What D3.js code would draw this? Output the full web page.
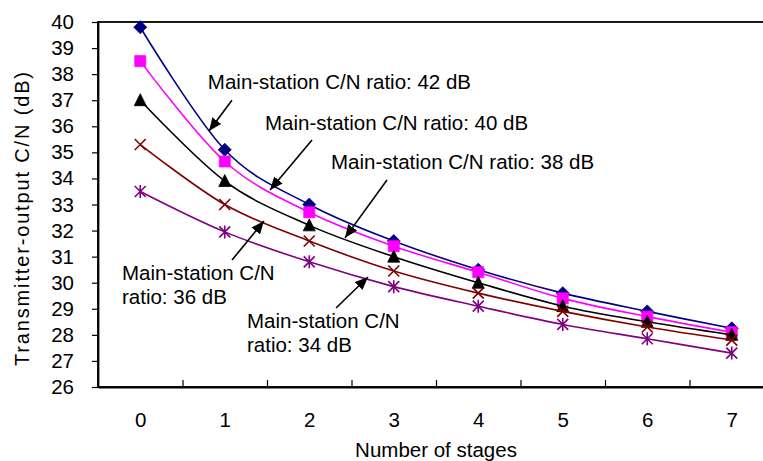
<!DOCTYPE html>
<html>
<head>
<meta charset="utf-8">
<script src="https://cdn.jsdelivr.net/npm/d3@7"></script>
<style>
  body { margin: 0; background: #fff; }
  svg { display: block; font-family: "Liberation Sans", Arial, sans-serif; }
</style>
</head>
<body>
<div id="chart"></div>
<script>
// Data
const stages = [0, 1, 2, 3, 4, 5, 6, 7];
const cn42 = [39.8, 35.1, 33.0, 31.6, 30.5, 29.6, 28.9, 28.25];
const cn40 = [38.5, 34.65, 32.7, 31.4, 30.4, 29.4, 28.7, 28.1];
const cn38 = [37.0, 33.9, 32.2, 31.0, 30.0, 29.1, 28.5, 28.0];
const cn36 = [35.3, 33.0, 31.6, 30.45, 29.6, 28.9, 28.3, 27.8];
const cn34 = [33.5, 31.95, 30.8, 29.85, 29.1, 28.4, 27.85, 27.3];
const yTicks = [26, 27, 28, 29, 30, 31, 32, 33, 34, 35, 36, 37, 38, 39, 40];

const seriesNames = ["42 dB", "40 dB", "38 dB", "36 dB", "34 dB"];
const seriesValues = [cn42, cn40, cn38, cn36, cn34];
const seriesColors = ["#000080", "#ff00ff", "#000000", "#800000", "#800080"];
const seriesMarkers = ["diamond", "square", "triangle", "cross", "star"];

// annotations: label lines, text anchor and arrow (start -> tip) in data units (stage, dB)
const annotations = [
  { lines: ["Main-station C/N ratio: 42 dB"], text: [0.80, 37.43], from: [1.085, 37.0], to: [0.814, 35.82] },
  { lines: ["Main-station C/N ratio: 40 dB"], text: [1.476, 35.86], from: [2.033, 35.47], to: [1.536, 33.56] },
  { lines: ["Main-station C/N ratio: 38 dB"], text: [2.257, 34.36], from: [2.92, 33.94], to: [2.423, 31.72] },
  { lines: ["Main-station C/N", "ratio: 36 dB"], text: [-0.216, 30.1], from: [1.086, 30.87], to: [1.464, 32.37] },
  { lines: ["Main-station C/N", "ratio: 34 dB"], text: [1.263, 28.26], from: [2.317, 29.03], to: [2.695, 30.22] }
];

const config = {
  containerWidth: 763,
  containerHeight: 461,
  margin: { top: 22, left: 98 },
  plotWidth: 676,
  plotHeight: 365,
  fontSize: 20.5
};

const width = config.plotWidth;
const height = config.plotHeight;

const svg = d3.select("#chart")
  .append("svg")
  .attr("width", config.containerWidth)
  .attr("height", config.containerHeight);

svg.append("defs").append("marker")
  .attr("id", "arrow")
  .attr("markerUnits", "userSpaceOnUse")
  .attr("viewBox", "0 0 13 11")
  .attr("refX", 13)
  .attr("refY", 5.5)
  .attr("markerWidth", 13)
  .attr("markerHeight", 11)
  .attr("orient", "auto")
  .append("path")
  .attr("d", "M0,0 L13,5.5 L0,11 Z")
  .attr("fill", "#000");

const g = svg.append("g")
  .attr("transform", `translate(${config.margin.left},${config.margin.top})`);

// Scales
const xScale = d3.scaleLinear().domain([-0.5, 7.5]).range([0, width]);
const yScale = d3.scaleLinear().domain([26, 40]).range([height, 0]);

// Plot border
g.append("rect")
  .attr("x", 0).attr("y", 0)
  .attr("width", width).attr("height", height)
  .attr("fill", "none")
  .attr("stroke", "#000")
  .attr("stroke-width", 1.8);

// Y axis
const yAxis = g.append("g")
  .attr("class", "y-axis")
  .call(d3.axisLeft(yScale).tickValues(yTicks).tickSize(6).tickSizeOuter(0).tickPadding(18).tickFormat(d3.format("d")));
yAxis.select(".domain").attr("stroke-width", 1.8);
yAxis.selectAll("line").attr("stroke-width", 1.2);
yAxis.selectAll("text").attr("font-size", config.fontSize).attr("font-family", "Liberation Sans, Arial").attr("fill", "#000");

// X axis: labels at stage centres, tick marks between categories pointing inwards
const xAxis = g.append("g")
  .attr("class", "x-axis")
  .attr("transform", `translate(0,${height})`)
  .call(d3.axisBottom(xScale).tickValues(stages).tickSize(0).tickPadding(25).tickFormat(d3.format("d")));
xAxis.select(".domain").attr("stroke-width", 1.8);
xAxis.selectAll("text").attr("font-size", config.fontSize).attr("font-family", "Liberation Sans, Arial").attr("fill", "#000");

g.append("g")
  .attr("transform", `translate(0,${height})`)
  .call(d3.axisBottom(xScale).tickValues(stages.map(d => d + 0.5)).tickSize(-7).tickSizeOuter(0).tickFormat(""))
  .call(a => a.select(".domain").remove())
  .selectAll("line").attr("stroke-width", 1.2);

// Axis titles
svg.append("text")
  .attr("x", config.margin.left + width / 2)
  .attr("y", 457)
  .attr("text-anchor", "middle")
  .attr("font-size", config.fontSize)
  .text("Number of stages");

svg.append("text")
  .attr("transform", "translate(29,219) rotate(-90)")
  .attr("text-anchor", "middle")
  .attr("font-size", 20)
  .attr("textLength", 294)
  .attr("lengthAdjust", "spacing")
  .text("Transmitter-output C/N (dB)");

// Marker shapes
function markerPath(type) {
  switch (type) {
    case "diamond": return "M0,-6.5 L6.5,0 L0,6.5 L-6.5,0 Z";
    case "square": return "M-5.5,-5.5 H5.5 V5.5 H-5.5 Z";
    case "triangle": return "M0,-6.5 L6,5.5 L-6,5.5 Z";
    case "cross": return "M-5.5,-5.5 L5.5,5.5 M5.5,-5.5 L-5.5,5.5";
    case "star": return "M-5.5,-5.5 L5.5,5.5 M5.5,-5.5 L-5.5,5.5 M0,-6.5 L0,6.5";
  }
}

const line = d3.line()
  .x((d, i) => xScale(stages[i]))
  .y(d => yScale(d))
  .curve(d3.curveCatmullRom.alpha(0));

seriesValues.forEach((values, si) => {
  const color = seriesColors[si];
  const type = seriesMarkers[si];
  const sg = g.append("g").attr("class", "series").attr("data-name", seriesNames[si]);

  sg.append("path")
    .datum(values)
    .attr("d", line)
    .attr("fill", "none")
    .attr("stroke", color)
    .attr("stroke-width", 1.6);

  const open = type === "cross" || type === "star";
  sg.selectAll(".marker")
    .data(values)
    .enter()
    .append("path")
    .attr("class", "marker")
    .attr("transform", (d, i) => `translate(${xScale(stages[i])},${yScale(d)})`)
    .attr("d", markerPath(type))
    .attr("fill", open ? "none" : color)
    .attr("stroke", color)
    .attr("stroke-width", open ? 1.6 : 0.8);
});

// Annotations
annotations.forEach(a => {
  g.append("line")
    .attr("x1", xScale(a.from[0])).attr("y1", yScale(a.from[1]))
    .attr("x2", xScale(a.to[0])).attr("y2", yScale(a.to[1]))
    .attr("stroke", "#000")
    .attr("stroke-width", 1.6)
    .attr("marker-end", "url(#arrow)");

  const t = g.append("text")
    .attr("x", xScale(a.text[0]))
    .attr("y", yScale(a.text[1]))
    .attr("font-size", config.fontSize)
    .attr("fill", "#000");
  a.lines.forEach((s, k) => {
    t.append("tspan")
      .attr("x", xScale(a.text[0]))
      .attr("dy", k === 0 ? 0 : 24)
      .text(s);
  });
});
</script>
</body>
</html>
